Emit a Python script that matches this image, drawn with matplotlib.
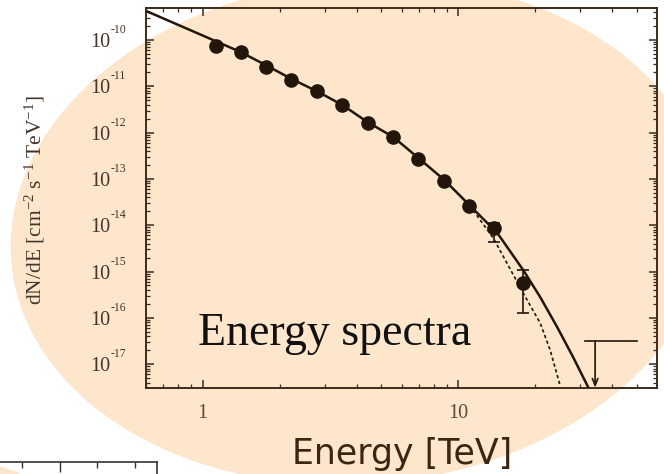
import numpy as np
import matplotlib.pyplot as plt
from matplotlib.patches import Ellipse
from matplotlib.ticker import LogLocator, NullFormatter, FixedLocator

plt.rcParams['font.family'] = ['Liberation Serif', 'DejaVu Serif']
plt.rcParams['mathtext.fontset'] = 'custom'
plt.rcParams['mathtext.rm'] = 'Liberation Serif'
plt.rcParams['mathtext.it'] = 'Liberation Serif:italic'

# measured spectrum points [TeV], [cm^-2 s^-1 TeV^-1]
energy = [1.124, 1.407, 1.763, 2.221, 2.788, 3.513, 4.423, 5.558, 6.979, 8.794, 11.04, 13.74, 17.94]
flux = [7.42e-11, 5.58e-11, 2.57e-11, 1.37e-11, 7.8e-12, 3.94e-12, 1.59e-12, 8.15e-13,
        2.65e-13, 9.1e-14, 2.62e-14, 8.57e-15, 5.65e-16]
flux_lo = [6.9e-11, 5.2e-11, 2.4e-11, 1.28e-11, 7.3e-12, 3.7e-12, 1.49e-12, 7.6e-13,
           2.45e-13, 8.4e-14, 2.35e-14, 4.34e-15, 1.27e-16]
flux_hi = [7.9e-11, 5.95e-11, 2.75e-11, 1.46e-11, 8.3e-12, 4.2e-12, 1.7e-12, 8.7e-13,
           2.85e-13, 9.8e-14, 2.9e-14, 1.12e-14, 1.08e-15]

# fitted curve (solid)
fit_E = [0.61, 1.0, 1.407, 1.763, 2.227, 2.788, 3.523, 4.411, 5.573, 6.979, 8.818, 11.04,
         14.21, 17.94, 20.91, 24.37, 28.13, 32.2]
fit_F = [4.08e-10, 1.25e-10, 5.5e-11, 2.88e-11, 1.44e-11, 7.9e-12, 3.94e-12, 1.69e-12,
         8.0e-13, 2.83e-13, 9.5e-14, 2.73e-14, 6.8e-15, 1.08e-15, 2.81e-16, 6.3e-17,
         1.42e-17, 3.2e-18]

# second model (dotted), only where it differs
cut_E = [8.818, 11.04, 13.7, 17.94, 20.91, 22.87, 25.0]
cut_F = [9.5e-14, 2.73e-14, 5.3e-15, 3.44e-16, 7.7e-17, 2.02e-17, 3.5e-18]

# upper limit
ul_E = 34.3
ul_F = 3.2e-17
ul_bin = [31.3, 50.0]

ytick_exp = [-10, -11, -12, -13, -14, -15, -16, -17]
xtick_vals = [1, 10]
xtick_text = ['1', '10']

dark = '#22150a'
axcol = '#3b2b1c'
labcol = '#43352a'
peach = '#fde6cc'

fig = plt.figure(figsize=(6.64, 4.74), dpi=100)

# background layer in pixel coordinates
bg = fig.add_axes([0, 0, 1, 1])
bg.set_xlim(0, 664)
bg.set_ylim(474, 0)
bg.axis('off')
bg.add_patch(Ellipse((360, 232), 700, 504, angle=-5, color=peach, lw=0))
bg.add_patch(Ellipse((-40, 611), 300, 300, color=peach, lw=0))

# piece of a neighbouring panel, cut off at the bottom left
ax2 = fig.add_axes([-50 / 664, -100 / 474, 207 / 664, 112 / 474])
ax2.set_facecolor('none')
ax2.set_xlim(-50, 157)
ax2.set_ylim(0, 1)
ax2.xaxis.set_major_locator(FixedLocator([60]))
ax2.xaxis.set_minor_locator(FixedLocator([22, 97, 135]))
ax2.tick_params(which='both', direction='in', top=True, bottom=False, left=False,
                right=False, labelbottom=False, labelleft=False, colors='#333333')
ax2.tick_params(which='major', length=7, width=1)
ax2.tick_params(which='minor', length=4, width=1)
ax2.set_yticks([])
for s in ax2.spines.values():
    s.set_color('#333333')
    s.set_linewidth(1.2)

ax = fig.add_axes([146 / 664, 1 - 388 / 474, 511 / 664, 380 / 474])
ax.set_facecolor('none')
ax.set_xscale('log')
ax.set_yscale('log')
ax.set_xlim(0.6, 59.9)
ax.set_ylim(3.05e-18, 4.91e-10)

ax.plot(fit_E, fit_F, color=dark, lw=1.8, zorder=3)
ax.plot(cut_E, cut_F, color=dark, lw=1.2, ls=(0, (2, 1.6)), zorder=3)

yerr = [np.array(flux) - np.array(flux_lo), np.array(flux_hi) - np.array(flux)]
ax.errorbar(energy, flux, yerr=yerr, fmt='o', ms=9.5, color=dark, mec=dark,
            ecolor=dark, elinewidth=1.2, capsize=4, capthick=1.2, zorder=4)

ax.plot(ul_bin, [ul_F, ul_F], color=dark, lw=1.2)
ax.annotate('', xy=(ul_E, 3.1e-18), xytext=(ul_E, ul_F),
            arrowprops=dict(arrowstyle='->,head_length=0.5,head_width=0.2',
                            color=dark, lw=1.2, shrinkA=0, shrinkB=0))

ax.yaxis.set_major_locator(LogLocator(base=10, numticks=30))
ax.yaxis.set_minor_locator(LogLocator(base=10, subs=np.arange(2, 10), numticks=100))
ax.xaxis.set_major_locator(FixedLocator(xtick_vals))
ax.xaxis.set_minor_locator(LogLocator(base=10, subs=np.arange(2, 10), numticks=100))
ax.xaxis.set_major_formatter(NullFormatter())
ax.xaxis.set_minor_formatter(NullFormatter())
ax.yaxis.set_major_formatter(NullFormatter())
ax.yaxis.set_minor_formatter(NullFormatter())
ax.tick_params(which='both', direction='in', top=True, right=True, colors=axcol)
ax.tick_params(which='major', length=6, width=1.1)
ax.tick_params(which='minor', length=3, width=0.9)
for s in ax.spines.values():
    s.set_color(axcol)
    s.set_linewidth(1.4)

# tick labels with small exponents
for n in ytick_exp:
    ax.annotate('10', xy=(0, 10.0 ** n), xycoords=('axes fraction', 'data'),
                xytext=(-36, -7), textcoords='offset pixels', ha='right', va='baseline',
                fontsize=14.5, color=labcol)
    ax.annotate(str(n), xy=(0, 10.0 ** n), xycoords=('axes fraction', 'data'),
                xytext=(-35, 7), textcoords='offset pixels', ha='left', va='baseline',
                fontsize=8.5, color=labcol)
for v, t in zip(xtick_vals, xtick_text):
    ax.annotate(t, xy=(v, 0), xycoords=('data', 'axes fraction'),
                xytext=(0, -30), textcoords='offset pixels', ha='center', va='baseline',
                fontsize=14.5, color='#5a4a3c')

fig.text(35 / 664, 1 - 200 / 474, r'dN/dE [cm$^{-2}$ s$^{-1}$ TeV$^{-1}$]',
         rotation=90, ha='center', va='center', fontsize=15.5, color=labcol)

fig.text(198 / 664, 1 - 345 / 474, 'Energy spectra', ha='left', va='baseline',
         fontsize=33, color='#111111', family='Liberation Serif')
fig.text(292 / 664, 1 - 464 / 474, 'Energy [TeV]', ha='left', va='baseline',
         fontsize=25, color='#3a2612', family='DejaVu Sans')

fig.savefig('out.png', dpi=100)
